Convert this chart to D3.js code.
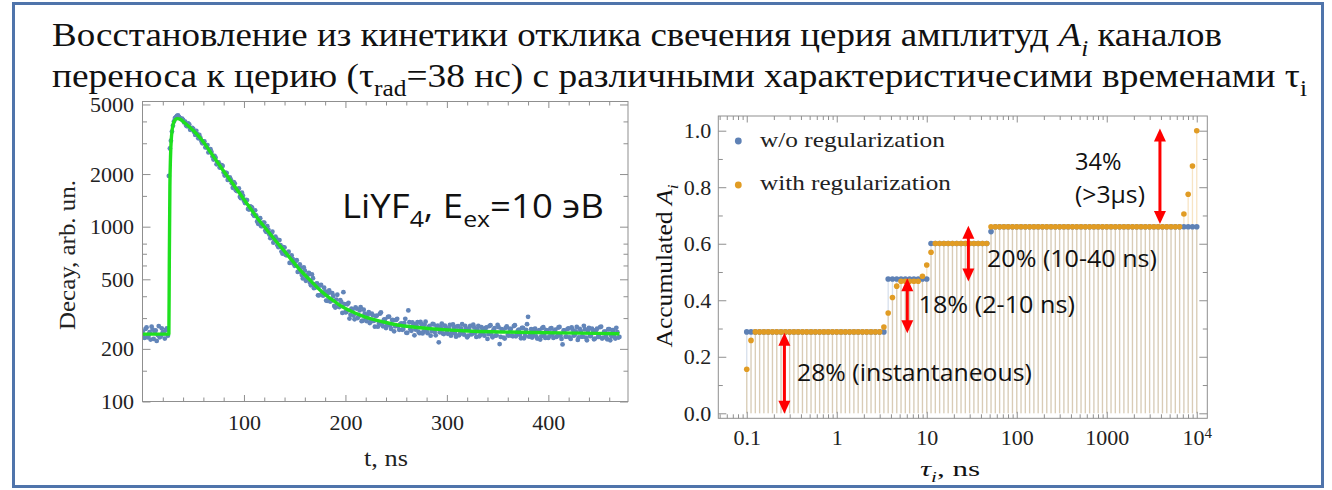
<!DOCTYPE html>
<html>
<head>
<meta charset="utf-8">
<script src="https://cdn.jsdelivr.net/npm/d3@7"></script>
<style>
  html, body { margin: 0; padding: 0; background: #fff; }
  svg { display: block; }
</style>
</head>
<body>
<svg id="fig" width="1332" height="490"></svg>
<script>
// ---------------- Decay of Ce3+ luminescence, LiYF4, Eex = 10 eV ----------------
// counts in 1 ns channels, split into even (t = 0, 2, ... 470 ns) and odd (t = 1, 3, ... 469 ns) channels
const decayCountsEven = [
  252,231,265,238,226,258,247,222,270,236,249,229,262,
  1950,3100,3780,4180,4300,4240,4120,4080,
  3990,3750,3850,3610,3620,3350,3380,3350,3090,3070,2840,2930,2690,2670,2420,2480,2330,2180,2250,2040,2040,1850,1915,1770,1800,1615,1637,1483,1565,1406,
  1421,1264,1306,1284,1154,1162,1039,1118,1009,1055,933,963,860,936,831,853,763,785,701,759,686,719,623,654,597,643,554,582,506,560,
  508,544,462,507,448,473,405,464,403,426,377,432,377,401,345,408,347,370,422,324,360,298,340,310,345,300,332,288,335,295,
  313,281,318,289,308,268,318,276,294,263,305,272,293,252,293,269,277,257,281,247,332,259,283,239,273,251,285,245,275,254,
  266,238,278,250,269,218,266,245,272,249,261,238,276,245,268,239,262,246,271,233,263,242,275,247,259,236,266,243,263,228,
  270,240,258,238,274,213,259,232,264,240,260,238,270,236,255,241,264,230,257,305,244,232,259,236,251,226,263,239,256,231,
  261,241,253,234,265,238,212,255,235,262,228,257,240,267,233,252,235,259,224,264,237,254,229,261,234,268,232,251,227,259,237,256,229,249,234
];
const decayCountsOdd = [
  241,260,233,249,268,228,255,240,233,262,245,256,238,
  2800,3500,4000,4230,4330,4180,4150,3950,
  3790,3900,3585,3670,3465,3535,3200,3230,3000,3075,2845,2660,2775,2520,2540,2275,2335,2185,2225,1960,2025,1855,1860,1670,1765,1600,1655,1455,1505,
  1365,1420,1253,1296,1176,1240,1071,1107,1006,1053,950,1006,902,917,810,876,784,838,720,764,691,710,620,685,613,635,551,609,530,584,
  490,531,478,533,445,470,405,461,417,448,378,417,373,416,352,383,350,380,321,361,325,367,313,335,295,340,306,346,290,318,
  288,324,286,311,268,310,281,323,269,295,272,306,260,292,269,297,257,280,260,297,247,284,254,278,258,284,246,277,252,286,
  246,271,253,276,239,272,249,279,243,265,244,274,248,266,235,270,244,277,241,261,238,271,244,265,234,271,241,261,238,265,
  243,273,233,263,239,266,234,256,229,269,238,260,236,273,241,258,230,264,237,277,235,259,240,261,229,256,236,266,231,253,
  236,263,231,258,238,267,228,255,235,260,233,265,238,252,225,260,235,271,232,254,237,261,227,256,234,266,229,251,237,259,224,256,234,264,232
];
// fitted decay model (green curve)
const fitTimes  = [0, 26, 26.4, 27, 27.6, 28.6, 30.2, 32.5, 34.5, 37, 41.7, 50, 58.1, 66, 74.5, 82, 90.9, 99, 107.3, 115, 123.6, 132, 140, 148, 156.5, 165, 172.8, 181, 189.2, 197, 205.7, 214, 222, 238, 254.8, 271, 287.6, 304, 320.4, 353, 386, 430, 470];
const fitCounts = [243, 243, 600, 1700, 2500, 3300, 3850, 4100, 4150, 4120, 3920, 3550, 3150, 2720, 2310, 2000, 1700, 1460, 1250, 1085, 942, 820, 723, 635, 556, 495, 446, 405, 374, 348, 328, 313, 301, 285, 272, 265, 260, 256, 253, 250, 248, 246, 244];
const decayYMajor = [100, 200, 500, 1000, 2000, 5000];
const decayYMinor = [150, 300, 400, 600, 700, 800, 1500, 3000, 4000];
const decayXMajor = [100, 200, 300, 400];
const decayXMinor = [20, 40, 60, 80, 120, 140, 160, 180, 220, 240, 260, 280, 320, 340, 360, 380, 420, 440, 460];

// ---------------- Accumulated amplitudes A_i of transfer channels ----------------
const tauPerDecade = 21;   // log grid of channel times, starting at 0.1 ns
const tauCount = 106;      // 0.1 ns ... 10^4 ns
const accWithoutReg = [
  0.288,0.288,0.288,0.288,0.288,0.288,0.288,0.288,0.288,0.288,0.288,0.288,0.288,0.288,0.288,0.288,0.288,0.288,0.288,0.288,0.288,0.288,0.288,0.288,0.288,0.288,0.288,0.288,0.288,0.288,0.288,0.288,0.288,
  0.475,0.475,0.475,0.475,0.475,0.475,0.475,0.475,0.475,0.475,
  0.601,0.601,0.601,0.601,0.601,0.601,0.601,0.601,0.601,0.601,0.601,0.601,0.601,0.601,
  0.643,
  0.66,0.66,0.66,0.66,0.66,0.66,0.66,0.66,0.66,0.66,0.66,0.66,0.66,0.66,0.66,0.66,0.66,0.66,0.66,0.66,0.66,0.66,0.66,0.66,
  0.66,0.66,0.66,0.66,0.66,0.66,0.66,0.66,0.66,0.66,0.66,0.66,0.66,0.66,0.66,0.66,0.66,0.66,0.66,0.66,0.66,0.66,0.66,0.66
];
const accWithReg = [
  0.156,0.258,
  0.288,0.288,0.288,0.288,0.288,0.288,0.288,0.288,0.288,0.288,0.288,0.288,0.288,0.288,0.288,0.288,0.288,0.288,0.288,0.288,0.288,0.288,0.288,0.288,0.288,0.288,0.288,0.288,0.288,0.288,
  0.305,0.355,0.41,0.45,
  0.467,0.467,0.467,0.467,0.467,
  0.485,0.525,0.57,
  0.601,0.601,0.601,0.601,0.601,0.601,0.601,0.601,0.601,0.601,0.601,0.601,0.601,
  0.66,0.66,0.66,0.66,0.66,0.66,0.66,0.66,0.66,0.66,0.66,0.66,0.66,0.66,0.66,0.66,0.66,0.66,0.66,0.66,0.66,0.66,0.66,
  0.66,0.66,0.66,0.66,0.66,0.66,0.66,0.66,0.66,0.66,0.66,0.66,0.66,0.66,0.66,0.66,0.66,0.66,0.66,0.66,0.66,0.66,
  0.705,0.775,0.875,1.0
];
const accXMajor = [0.1, 1, 10, 100, 1000, 10000];
const accYMajor = [0, 0.2, 0.4, 0.6, 0.8, 1.0];
const accYMinor = [0.1, 0.3, 0.5, 0.7, 0.9];
// double arrows marking the groups of channels
const groupTau   = [0.262, 6.08, 29, 3900];
const groupFrom  = [-0.002, 0.283, 0.466, 0.67];
const groupTo    = [0.285, 0.478, 0.664, 1.008];
const groupLabels = ["28% (instantaneous)", "18% (2-10 ns)", "20% (10-40 ns)", "34%", "(>3µs)"];

// ---------------- drawing ----------------
const svg = d3.select("#fig");
const SERIF = "Liberation Serif";
const SANS = "Open Sans";
const FRAME = "#8f8f8f";
const BLUE = "#5e81b5", ORANGE = "#e19c24";

// horizontally fit an element to a target width, scaling about x0
function stretchTo(sel, x0, width) {
  const w = sel.node().getBBox().width;
  const k = width / w;
  sel.attr("transform", `matrix(${k},0,0,1,${x0 * (1 - k)},0)`);
}
// a line of text made of plain runs (subscript / superscript / italic), laid out side by side
function richText(parent, x, y, parts, size, family, anchor) {
  const g = parent.append("g");
  let cx = 0;
  const runs = parts.map(p => {
    const fs = (p.sub || p.sup) ? size * 0.68 : size;
    const dy = p.sub ? size * 0.28 : (p.sup ? -size * 0.42 : 0);
    const t = g.append("text").attr("x", cx).attr("y", y + dy)
      .attr("xml:space", "preserve").style("white-space", "pre")
      .style("font-family", family).attr("font-size", fs).attr("fill", "#111")
      .text(p.t);
    if (p.it) t.attr("font-style", "italic");
    cx += t.node().getComputedTextLength();
    return t;
  });
  const x0 = anchor === "middle" ? x - cx / 2 : x;
  runs.forEach(t => t.attr("x", +t.attr("x") + x0));
  return g;
}
function styleAxis(g, labelSize) {
  g.attr("font-family", null);
  g.select(".domain").remove();
  g.selectAll(".tick line").attr("stroke", FRAME).attr("stroke-width", 1);
  g.selectAll(".tick text").style("font-family", SERIF).attr("font-size", labelSize).attr("fill", "#222");
}

// ---------- title ----------
const title1 = richText(svg, 52, 46.5, [
  { t: "Восстановление из кинетики отклика свечения церия амплитуд " },
  { t: "A", it: true }, { t: "i", it: true, sub: true }, { t: " каналов" }
], 33, SERIF);
stretchTo(title1, 52, 1170);
const title2 = richText(svg, 52, 87, [
  { t: "переноса к церию (τ" }, { t: "rad", sub: true },
  { t: "=38 нс) с различными характеристичесими временами τ" }, { t: "i", sub: true }
], 33, SERIF);
stretchTo(title2, 52, 1255);

// ---------- left panel: decay ----------
const L = { x0: 142.5, x1: 628, y0: 101.5, y1: 401.5 };
const xL = d3.scaleLinear().domain([0, 478.5]).range([L.x0, L.x1]);
const yL = d3.scaleLog().domain([100, 5200]).range([L.y1, L.y0]);

svg.append("clipPath").attr("id", "clipL").append("rect")
  .attr("x", L.x0).attr("y", L.y0).attr("width", L.x1 - L.x0).attr("height", L.y1 - L.y0);

const decayPoints = decayCountsEven.map((c, i) => [2 * i, c])
  .concat(decayCountsOdd.map((c, i) => [2 * i + 1, c]))
  .sort((a, b) => a[0] - b[0]);

const gL = svg.append("g");
gL.append("g").attr("clip-path", "url(#clipL)")
  .selectAll("circle").data(decayPoints).join("circle")
  .attr("cx", d => xL(d[0])).attr("cy", d => yL(d[1]))
  .attr("r", 2.4).attr("fill", "#6285b9");

const fitLine = d3.line().x(d => xL(d[0])).y(d => yL(d[1])).curve(d3.curveMonotoneX);
gL.append("path").attr("clip-path", "url(#clipL)")
  .datum(fitTimes.map((t, i) => [t, fitCounts[i]]))
  .attr("d", fitLine).attr("fill", "none").attr("stroke", "#1ee01e").attr("stroke-width", 3.4)
  .attr("stroke-linejoin", "round");

gL.append("rect").attr("x", L.x0).attr("y", L.y0).attr("width", L.x1 - L.x0).attr("height", L.y1 - L.y0)
  .attr("fill", "none").attr("stroke", FRAME).attr("stroke-width", 1);

const fmtInt = d3.format("d");
gL.append("g").attr("transform", `translate(0,${L.y1})`)
  .call(d3.axisBottom(xL).tickValues(decayXMajor).tickSize(-6.5).tickPadding(13).tickFormat(fmtInt))
  .call(g => styleAxis(g, 22));
gL.append("g").attr("transform", `translate(0,${L.y1})`)
  .call(d3.axisBottom(xL).tickValues(decayXMinor).tickSize(-4).tickFormat(""))
  .call(g => styleAxis(g, 22));
gL.append("g").attr("transform", `translate(0,${L.y0})`)
  .call(d3.axisTop(xL).tickValues(decayXMajor).tickSize(-6.5).tickFormat(""))
  .call(g => styleAxis(g, 22));
gL.append("g").attr("transform", `translate(0,${L.y0})`)
  .call(d3.axisTop(xL).tickValues(decayXMinor).tickSize(-4).tickFormat(""))
  .call(g => styleAxis(g, 22));
gL.append("g").attr("transform", `translate(${L.x0},0)`)
  .call(d3.axisLeft(yL).tickValues(decayYMajor).tickSize(-8).tickPadding(8.5).tickFormat(fmtInt))
  .call(g => styleAxis(g, 22));
gL.append("g").attr("transform", `translate(${L.x0},0)`)
  .call(d3.axisLeft(yL).tickValues(decayYMinor).tickSize(-4.5).tickFormat(""))
  .call(g => styleAxis(g, 22));
gL.append("g").attr("transform", `translate(${L.x1},0)`)
  .call(d3.axisRight(yL).tickValues(decayYMajor).tickSize(-8).tickFormat(""))
  .call(g => styleAxis(g, 22));
gL.append("g").attr("transform", `translate(${L.x1},0)`)
  .call(d3.axisRight(yL).tickValues(decayYMinor).tickSize(-4.5).tickFormat(""))
  .call(g => styleAxis(g, 22));

const yTitleL = gL.append("g").attr("transform", "translate(75,255) rotate(-90)");
const yTextL = yTitleL.append("text").attr("x", 0).attr("y", 0)
  .attr("text-anchor", "middle").style("font-family", SERIF).attr("font-size", 23).attr("fill", "#222")
  .text("Decay, arb. un.");
stretchTo(yTextL, 0, 150);
const xTextL = gL.append("text").attr("x", 386).attr("y", 466)
  .attr("text-anchor", "middle").style("font-family", SERIF).attr("font-size", 23).attr("fill", "#222")
  .text("t, ns");
stretchTo(xTextL, 386, 44);

const sample = richText(gL, 342, 218, [
  { t: "LiYF" }, { t: "4", sub: true }, { t: ", E" }, { t: "ex", sub: true }, { t: "=10 эВ" }
], 33, SANS);
stretchTo(sample, 342, 262);

// ---------- right panel: accumulated amplitudes ----------
const R = { x0: 718.3, x1: 1207.3, y0: 116, y1: 418.3 };
const xR = d3.scaleLog().domain([0.0483, 13100]).range([R.x0, R.x1]);
const yR = d3.scaleLinear().domain([-0.0177, 1.052]).range([R.y1, R.y0]);
const tauGrid = d3.range(tauCount).map(i => 0.1 * Math.pow(10, i / tauPerDecade));

const gR = svg.append("g");
// filling down to zero
gR.append("g").selectAll("line").data(accWithoutReg).join("line")
  .attr("x1", (d, i) => xR(tauGrid[i])).attr("x2", (d, i) => xR(tauGrid[i]))
  .attr("y1", yR(0)).attr("y2", d => yR(d))
  .attr("stroke", BLUE).attr("stroke-opacity", 0.25).attr("stroke-width", 1.3);
gR.append("g").selectAll("line").data(accWithReg).join("line")
  .attr("x1", (d, i) => xR(tauGrid[i])).attr("x2", (d, i) => xR(tauGrid[i]))
  .attr("y1", yR(0)).attr("y2", d => yR(d))
  .attr("stroke", ORANGE).attr("stroke-opacity", 0.27).attr("stroke-width", 1.3);
gR.append("g").selectAll("circle").data(accWithoutReg).join("circle")
  .attr("cx", (d, i) => xR(tauGrid[i])).attr("cy", d => yR(d)).attr("r", 2.8).attr("fill", BLUE);
gR.append("g").selectAll("circle").data(accWithReg).join("circle")
  .attr("cx", (d, i) => xR(tauGrid[i])).attr("cy", d => yR(d)).attr("r", 2.8).attr("fill", ORANGE);

gR.append("rect").attr("x", R.x0).attr("y", R.y0).attr("width", R.x1 - R.x0).attr("height", R.y1 - R.y0)
  .attr("fill", "none").attr("stroke", FRAME).attr("stroke-width", 1);

// log minor ticks 2..9 per decade inside the domain
const accXMinor = [];
for (let e = -2; e <= 4; e++) for (let m = 2; m <= 9; m++) {
  const v = m * Math.pow(10, e);
  if (v > xR.domain()[0] && v < xR.domain()[1]) accXMinor.push(v);
}
const fmtTau = d => d === 10000 ? "10" : (d < 1 ? d3.format(".1f")(d) : fmtInt(d));
gR.append("g").attr("transform", `translate(0,${R.y1})`)
  .call(d3.axisBottom(xR).tickValues(accXMajor).tickSize(-6.5).tickPadding(11).tickFormat(fmtTau))
  .call(g => styleAxis(g, 22))
  .call(g => g.selectAll(".tick text").filter(d => d === 10000)
    .append("tspan").attr("dy", "-0.45em").attr("font-size", 15).text("4"));
gR.append("g").attr("transform", `translate(0,${R.y1})`)
  .call(d3.axisBottom(xR).tickValues(accXMinor).tickSize(-4).tickFormat(""))
  .call(g => styleAxis(g, 22));
gR.append("g").attr("transform", `translate(0,${R.y0})`)
  .call(d3.axisTop(xR).tickValues(accXMajor).tickSize(-6.5).tickFormat(""))
  .call(g => styleAxis(g, 22));
gR.append("g").attr("transform", `translate(0,${R.y0})`)
  .call(d3.axisTop(xR).tickValues(accXMinor).tickSize(-4).tickFormat(""))
  .call(g => styleAxis(g, 22));
gR.append("g").attr("transform", `translate(${R.x0},0)`)
  .call(d3.axisLeft(yR).tickValues(accYMajor).tickSize(-8).tickPadding(7).tickFormat(d3.format(".1f")))
  .call(g => styleAxis(g, 22));
gR.append("g").attr("transform", `translate(${R.x0},0)`)
  .call(d3.axisLeft(yR).tickValues(accYMinor).tickSize(-4.5).tickFormat(""))
  .call(g => styleAxis(g, 22));
gR.append("g").attr("transform", `translate(${R.x1},0)`)
  .call(d3.axisRight(yR).tickValues(accYMajor).tickSize(-8).tickFormat(""))
  .call(g => styleAxis(g, 22));
gR.append("g").attr("transform", `translate(${R.x1},0)`)
  .call(d3.axisRight(yR).tickValues(accYMinor).tickSize(-4.5).tickFormat(""))
  .call(g => styleAxis(g, 22));

// axis titles
const yTitleR = gR.append("g").attr("transform", "translate(672,266) rotate(-90)");
const yTextR = richText(yTitleR, 0, 0, [{ t: "Accumulated " }, { t: "A", it: true }, { t: "i", it: true, sub: true }], 23, SERIF, "middle");
stretchTo(yTextR, 0, 163);
const xTextR = richText(gR, 950, 476, [{ t: "τ", it: true }, { t: "i", it: true, sub: true }, { t: ", ns" }], 22, SERIF, "middle");
stretchTo(xTextR, 950, 60);

// legend
const legend = [["w/o regularization", BLUE, 141, 147, 185], ["with regularization", ORANGE, 185, 190, 191]];
legend.forEach(([label, color, cy, base, w]) => {
  gR.append("circle").attr("cx", 738.3).attr("cy", cy).attr("r", 3.4).attr("fill", color);
  const t = gR.append("text").attr("x", 760).attr("y", base)
    .style("font-family", SERIF).attr("font-size", 22).attr("fill", "#222").text(label);
  stretchTo(t, 760, w);
});

// red double arrows
const arrowG = gR.append("g");
groupTau.forEach((tau, i) => {
  const x = xR(tau), yTop = yR(groupTo[i]), yBot = yR(groupFrom[i]);
  const head = 13, half = 6;
  arrowG.append("line").attr("x1", x).attr("x2", x).attr("y1", yTop + head - 2).attr("y2", yBot - head + 2)
    .attr("stroke", "#ff0000").attr("stroke-width", 3);
  arrowG.append("path").attr("fill", "#ff0000")
    .attr("d", `M${x},${yTop} L${x - half},${yTop + head} L${x + half},${yTop + head} Z`);
  arrowG.append("path").attr("fill", "#ff0000")
    .attr("d", `M${x},${yBot} L${x - half},${yBot - head} L${x + half},${yBot - head} Z`);
});

// group annotations
const notes = [
  [groupLabels[0], 797, 381.5, 235],
  [groupLabels[1], 918.5, 313.3, 156.5],
  [groupLabels[2], 987, 267.3, 170],
  [groupLabels[3], 1075, 170, 46.5],
  [groupLabels[4], 1075, 203.5, 70]
];
notes.forEach(([label, x, y, w]) => {
  const t = gR.append("text").attr("x", x).attr("y", y)
    .style("font-family", SANS).attr("font-size", 23).attr("fill", "#111").text(label);
  stretchTo(t, x, w);
});

// outer border of the slide panel
svg.append("rect").attr("x", 13.5).attr("y", 3.5).attr("width", 1309).attr("height", 483)
  .attr("fill", "none").attr("stroke", "#4f74ab").attr("stroke-width", 3);
</script>
</body>
</html>
